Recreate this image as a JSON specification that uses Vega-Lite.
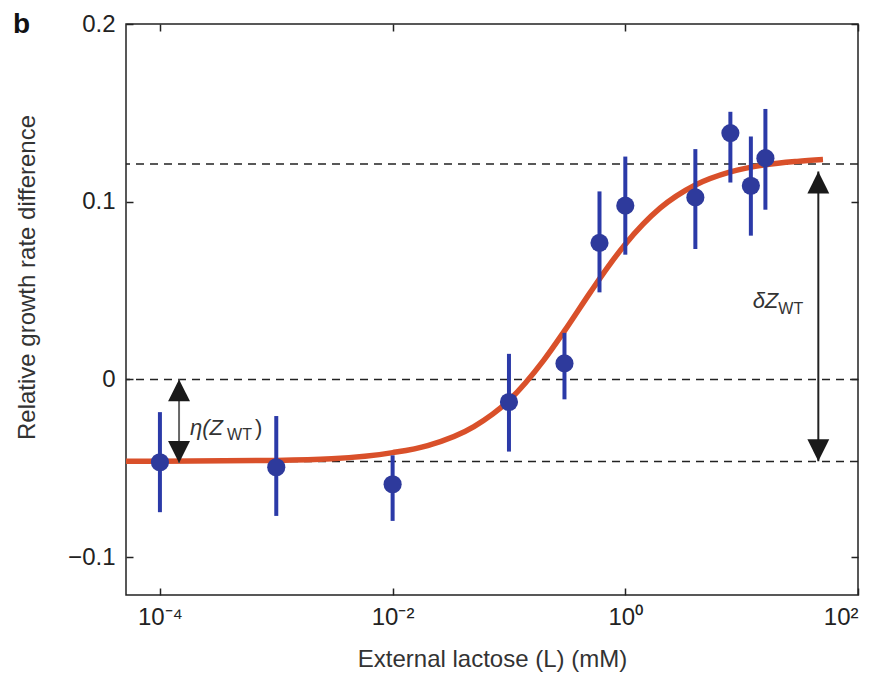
{
  "$schema": "https://vega.github.io/schema/vega-lite/v6.json",
  "width": 732,
  "height": 571,
  "autosize": {"type": "none"},
  "padding": {"left": 126, "top": 24, "right": 27, "bottom": 90},
  "background": "white",
  "config": {
    "font": "Liberation Sans",
    "view": {"stroke": "#222", "strokeWidth": 1.5},
    "axis": {
      "domain": false,
      "grid": false,
      "tickColor": "#222",
      "tickWidth": 1.5,
      "tickSize": -7,
      "labelPadding": 18,
      "labelFont": "Liberation Sans",
      "labelFontSize": 24,
      "labelColor": "#222",
      "titleFont": "Liberation Sans",
      "titleFontSize": 24,
      "titleFontWeight": "normal",
      "titleColor": "#333"
    }
  },
  "datasets": {
    "obs": [
      {"L": 0.0001, "g": -0.0466, "lo": -0.0747, "hi": -0.0184},
      {"L": 0.001, "g": -0.0494, "lo": -0.0768, "hi": -0.0206},
      {"L": 0.01, "g": -0.059, "lo": -0.0796, "hi": -0.0427},
      {"L": 0.1, "g": -0.0127, "lo": -0.0406, "hi": 0.0144},
      {"L": 0.3, "g": 0.009, "lo": -0.0112, "hi": 0.0262},
      {"L": 0.6, "g": 0.0768, "lo": 0.049, "hi": 0.1058},
      {"L": 1, "g": 0.0978, "lo": 0.0702, "hi": 0.1254},
      {"L": 4, "g": 0.1024, "lo": 0.0734, "hi": 0.1296},
      {"L": 8, "g": 0.1386, "lo": 0.1108, "hi": 0.1506},
      {"L": 12, "g": 0.109, "lo": 0.0809, "hi": 0.1367},
      {"L": 16, "g": 0.1245, "lo": 0.0955, "hi": 0.1522}
    ],
    "fit": [
      {"L": 0.0000511, "g": -0.046},
      {"L": 0.0001, "g": -0.046},
      {"L": 0.001, "g": -0.0456},
      {"L": 0.003, "g": -0.0447},
      {"L": 0.01, "g": -0.0412},
      {"L": 0.02, "g": -0.0372},
      {"L": 0.05, "g": -0.0265},
      {"L": 0.1, "g": -0.0118},
      {"L": 0.2, "g": 0.011},
      {"L": 0.3, "g": 0.0273},
      {"L": 0.5, "g": 0.049},
      {"L": 0.7, "g": 0.0628},
      {"L": 1, "g": 0.0761},
      {"L": 2, "g": 0.0965},
      {"L": 4, "g": 0.1094},
      {"L": 8, "g": 0.1168},
      {"L": 16, "g": 0.1208},
      {"L": 30, "g": 0.1227},
      {"L": 50, "g": 0.1237}
    ],
    "levels": [{"g": 0.1212}, {"g": 0}, {"g": -0.0462}],
    "arrows": [
      {"name": "eta", "L": 0.000146, "top": 0, "bottom": -0.047},
      {"name": "delta", "L": 45.6, "top": 0.117, "bottom": -0.046}
    ],
    "one": [{}]
  },
  "layer": [
    {
      "data": {"name": "levels"},
      "mark": {"type": "rule", "color": "#222", "strokeWidth": 1.5, "strokeDash": [8, 6]},
      "encoding": {
        "y": {"field": "g", "type": "quantitative", "scale": {"domain": [-0.1213, 0.2], "nice": false, "zero": false}, "axis": null}
      }
    },
    {
      "data": {"name": "fit"},
      "mark": {"type": "line", "color": "#D9502A", "strokeWidth": 5.5, "interpolate": "monotone"},
      "encoding": {
        "x": {
          "field": "L", "type": "quantitative",
          "scale": {"type": "log", "domain": [0.0000511, 100], "nice": false},
          "axis": {
            "orient": "bottom",
            "values": [0.0001, 0.01, 1, 100],
            "labelExpr": "datum.value < 0.001 ? '10⁻⁴' : datum.value < 0.1 ? '10⁻²' : datum.value < 10 ? '10⁰' : '10²'",
            "labelPadding": 17,
            "title": "External lactose (L) (mM)",
            "titlePadding": 18
          }
        },
        "y": {
          "field": "g", "type": "quantitative",
          "scale": {"domain": [-0.1213, 0.2], "nice": false, "zero": false},
          "axis": {
            "orient": "left",
            "values": [-0.1, 0, 0.1, 0.2],
            "labelExpr": "datum.value == 0 ? '0' : format(datum.value, '.1f')",
            "title": "Relative growth rate difference",
            "titlePadding": 28,
            "titleY": 253
          }
        }
      }
    },
    {
      "data": {"name": "obs"},
      "mark": {"type": "rule", "color": "#2B3AA8", "strokeWidth": 4},
      "encoding": {
        "x": {"field": "L", "type": "quantitative", "scale": {"type": "log", "domain": [0.0000511, 100], "nice": false}, "axis": null},
        "y": {"field": "lo", "type": "quantitative", "scale": {"domain": [-0.1213, 0.2], "nice": false, "zero": false}, "axis": null},
        "y2": {"field": "hi"}
      }
    },
    {
      "data": {"name": "obs"},
      "mark": {"type": "circle", "color": "#2E3A9C", "opacity": 1, "size": 330},
      "encoding": {
        "x": {
          "field": "L", "type": "quantitative",
          "scale": {"type": "log", "domain": [0.0000511, 100], "nice": false},
          "axis": {"orient": "top", "values": [0.0001, 0.01, 1, 100], "labels": false, "title": null}
        },
        "y": {
          "field": "g", "type": "quantitative",
          "scale": {"domain": [-0.1213, 0.2], "nice": false, "zero": false},
          "axis": {"orient": "right", "values": [-0.1, 0, 0.1, 0.2], "labels": false, "title": null}
        }
      }
    },
    {
      "data": {"name": "arrows"},
      "mark": {"type": "rule", "strokeWidth": 2},
      "encoding": {
        "x": {"field": "L", "type": "quantitative", "scale": {"type": "log", "domain": [0.0000511, 100], "nice": false}, "axis": null},
        "y": {"field": "top", "type": "quantitative", "scale": {"domain": [-0.1213, 0.2], "nice": false, "zero": false}, "axis": null},
        "y2": {"field": "bottom"},
        "color": {"field": "name", "type": "nominal", "scale": {"domain": ["eta", "delta"], "range": ["#666666", "#222222"]}, "legend": null}
      }
    },
    {
      "data": {"name": "arrows"},
      "mark": {"type": "point", "shape": "M0,0L-1,2L1,2Z", "filled": true, "color": "#1a1a1a", "opacity": 1, "size": 480, "strokeWidth": 0},
      "encoding": {
        "x": {"field": "L", "type": "quantitative", "scale": {"type": "log", "domain": [0.0000511, 100], "nice": false}, "axis": null},
        "y": {"field": "top", "type": "quantitative", "scale": {"domain": [-0.1213, 0.2], "nice": false, "zero": false}, "axis": null}
      }
    },
    {
      "data": {"name": "arrows"},
      "mark": {"type": "point", "shape": "M0,0L-1,-2L1,-2Z", "filled": true, "color": "#1a1a1a", "opacity": 1, "size": 480, "strokeWidth": 0},
      "encoding": {
        "x": {"field": "L", "type": "quantitative", "scale": {"type": "log", "domain": [0.0000511, 100], "nice": false}, "axis": null},
        "y": {"field": "bottom", "type": "quantitative", "scale": {"domain": [-0.1213, 0.2], "nice": false, "zero": false}, "axis": null}
      }
    },
    {
      "data": {"name": "one"},
      "mark": {"type": "text", "text": "η(Z", "align": "left", "baseline": "alphabetic", "fontSize": 22, "fontStyle": "italic", "color": "#333", "dx": 11},
      "encoding": {
        "x": {"datum": 0.000146, "type": "quantitative", "scale": {"type": "log", "domain": [0.0000511, 100], "nice": false}, "axis": null},
        "y": {"datum": -0.031, "type": "quantitative", "scale": {"domain": [-0.1213, 0.2], "nice": false, "zero": false}, "axis": null}
      }
    },
    {
      "data": {"name": "one"},
      "mark": {"type": "text", "text": "WT", "align": "left", "baseline": "alphabetic", "fontSize": 16, "color": "#333", "dx": 48, "dy": 5},
      "encoding": {
        "x": {"datum": 0.000146, "type": "quantitative", "scale": {"type": "log", "domain": [0.0000511, 100], "nice": false}, "axis": null},
        "y": {"datum": -0.031, "type": "quantitative", "scale": {"domain": [-0.1213, 0.2], "nice": false, "zero": false}, "axis": null}
      }
    },
    {
      "data": {"name": "one"},
      "mark": {"type": "text", "text": ")", "align": "left", "baseline": "alphabetic", "fontSize": 22, "color": "#333", "dx": 76},
      "encoding": {
        "x": {"datum": 0.000146, "type": "quantitative", "scale": {"type": "log", "domain": [0.0000511, 100], "nice": false}, "axis": null},
        "y": {"datum": -0.031, "type": "quantitative", "scale": {"domain": [-0.1213, 0.2], "nice": false, "zero": false}, "axis": null}
      }
    },
    {
      "data": {"name": "one"},
      "mark": {"type": "text", "text": "δZ", "align": "right", "baseline": "alphabetic", "fontSize": 22, "fontStyle": "italic", "color": "#333", "dx": -40},
      "encoding": {
        "x": {"datum": 45.6, "type": "quantitative", "scale": {"type": "log", "domain": [0.0000511, 100], "nice": false}, "axis": null},
        "y": {"datum": 0.0404, "type": "quantitative", "scale": {"domain": [-0.1213, 0.2], "nice": false, "zero": false}, "axis": null}
      }
    },
    {
      "data": {"name": "one"},
      "mark": {"type": "text", "text": "WT", "align": "left", "baseline": "alphabetic", "fontSize": 16, "color": "#333", "dx": -40, "dy": 6},
      "encoding": {
        "x": {"datum": 45.6, "type": "quantitative", "scale": {"type": "log", "domain": [0.0000511, 100], "nice": false}, "axis": null},
        "y": {"datum": 0.0404, "type": "quantitative", "scale": {"domain": [-0.1213, 0.2], "nice": false, "zero": false}, "axis": null}
      }
    },
    {
      "data": {"name": "one"},
      "mark": {"type": "text", "text": "b", "align": "left", "baseline": "alphabetic", "fontSize": 28, "fontWeight": "bold", "color": "#111", "dx": -113, "dy": 9},
      "encoding": {
        "x": {"datum": 0.0000511, "type": "quantitative", "scale": {"type": "log", "domain": [0.0000511, 100], "nice": false}, "axis": null},
        "y": {"datum": 0.2, "type": "quantitative", "scale": {"domain": [-0.1213, 0.2], "nice": false, "zero": false}, "axis": null}
      }
    }
  ],
  "resolve": {"axis": {"x": "independent", "y": "independent"}}
}
